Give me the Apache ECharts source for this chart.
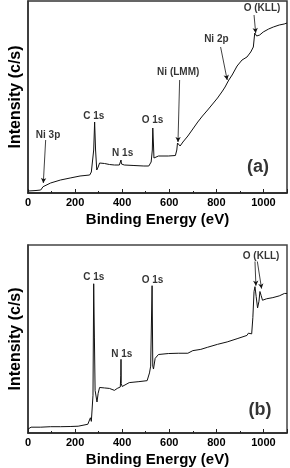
<!DOCTYPE html>
<html>
<head>
<meta charset="utf-8">
<script src="https://cdn.jsdelivr.net/npm/echarts@6/dist/echarts.min.js"></script>
<style>
  html, body { margin: 0; padding: 0; background: #fff; }
  #chart { width: 290px; height: 468px; }
</style>
</head>
<body>
<div id="chart"></div>
<script>
  // XPS survey spectra, panel (a) and panel (b)
  var energyA = [0, 34, 54, 60, 64, 96, 138, 179, 221, 262, 269, 275, 279, 283, 287, 292, 298, 304, 325, 346,
    367, 388, 394, 395, 397, 409, 450, 492, 513, 519, 523, 528, 530, 533, 535, 542, 554, 596, 626, 632,
    635, 640, 646, 658, 679, 700, 721, 741, 763, 784, 805, 826, 837, 842, 846, 849, 853, 867, 888, 909,
    930, 946, 957, 963, 971, 978, 984, 999, 1022, 1042, 1067, 1088, 1100];
  var countsA = [2, 2.5, 3, 4, 6.3, 10, 13, 15, 17, 18, 21, 22, 43, 71, 43, 23, 26, 30, 29.5, 28.5,
    28, 28, 30, 33, 29, 28, 27.5, 27, 27, 29, 31, 43, 65, 48, 35, 36, 37, 37, 37.5, 43,
    50, 48, 47, 51, 57, 64, 71, 77, 83, 89, 95, 102, 106, 107, 110, 109, 113, 118, 127, 133,
    136, 141, 146, 160, 157, 155, 158, 161, 164, 166, 168, 169, 170];

  var energyB = [0, 4, 13, 54, 96, 138, 179, 213, 221, 254, 262, 265, 269, 273, 276, 279, 282, 285, 293, 298,
    304, 325, 346, 367, 379, 392, 394, 395, 396, 400, 430, 471, 506, 516, 521, 527, 530, 533, 540, 554,
    596, 638, 679, 700, 734, 763, 805, 846, 888, 930, 936, 940, 950, 955, 960, 964, 969, 975, 981, 985,
    990, 996, 1013, 1040, 1067, 1089, 1100];
  var countsB = [4, 6, 6, 6, 6.5, 6.5, 6.7, 7, 8.3, 9, 10, 15.7, 12, 13, 39, 154, 99, 44, 32, 41,
    47, 46.5, 46, 44, 46, 47.5, 59, 76, 51, 48, 52, 53, 54, 62, 69, 152, 69, 66, 77, 81,
    82, 82.3, 82.3, 85, 86.3, 88.5, 91.5, 94, 97.3, 100.7, 103, 101, 102.3, 119, 146, 151, 141, 129, 136, 146,
    142, 137, 138.5, 139.7, 141.5, 144, 144];

  // peak labels: [energy, intensity, text]
  var labelsA = [[85, 58, 'Ni 3p'], [279, 77, 'C 1s'], [402, 40, 'N 1s'], [529, 73, 'O 1s'],
    [638, 121, 'Ni (LMM)'], [800, 154, 'Ni 2p'], [994, 185, 'O (KLL)']];
  var labelsB = [[279, 161, 'C 1s'], [398, 81, 'N 1s'], [529, 158, 'O 1s'], [990, 182, 'O (KLL)']];

  // arrows: [fromE, fromI, toE, toI]
  var arrowsA = [[75, 53, 65, 10], [644, 113, 637, 51], [818, 146, 846, 113], [960, 178, 967, 160]];
  var arrowsB = [[964, 177, 968, 152], [974, 177, 992, 149]];

  var tickEnergy = [0, 200, 400, 600, 800, 1000];

  var FONT = '"Liberation Sans", Arial, sans-serif';

  function toPairs(xs, ys) {
    var out = [];
    for (var i = 0; i < xs.length; i++) out.push([xs[i], ys[i]]);
    return out;
  }
  function toArrows(list) {
    return list.map(function (a) {
      return [{ coord: [a[0], a[1]] }, { coord: [a[2], a[3]] }];
    });
  }

  function xAxisFor(idx) {
    return {
      type: 'value', gridIndex: idx, min: 0, max: 1100, interval: 200,
      name: 'Binding Energy (eV)', nameLocation: 'middle', nameGap: 19,
      nameTextStyle: { fontFamily: FONT, fontWeight: 'bold', fontSize: 15, color: '#000' },
      axisLine: { show: true, lineStyle: { color: '#222', width: 1.5 } },
      axisTick: { show: true, inside: true, length: 4, lineStyle: { color: '#222' } },
      minorTick: { show: true, splitNumber: 2, length: 2, lineStyle: { color: '#222' } },
      axisLabel: {
        fontFamily: FONT, fontWeight: 'bold', fontSize: 11, color: '#000', margin: 4,
        formatter: function (v) { return tickEnergy.indexOf(v) >= 0 ? String(v) : ''; }
      },
      splitLine: { show: false }
    };
  }
  function yAxisFor(idx, max) {
    return {
      type: 'value', gridIndex: idx, min: 0, max: max,
      name: 'Intensity (c/s)', nameLocation: 'middle', nameGap: 4,
      nameTextStyle: { fontFamily: FONT, fontWeight: 'bold', fontSize: 16, color: '#000' },
      axisLine: { show: true, lineStyle: { color: '#333', width: 1.5 } },
      axisTick: { show: false }, axisLabel: { show: false }, splitLine: { show: false }
    };
  }
  function spectrum(idx, xs, ys, arrows) {
    return {
      type: 'line', xAxisIndex: idx, yAxisIndex: idx,
      data: toPairs(xs, ys), symbol: 'none', smooth: false,
      lineStyle: { color: '#111', width: 1 },
      markLine: {
        silent: true, symbol: ['none', 'arrow'], symbolSize: [4, 5],
        label: { show: false },
        lineStyle: { color: '#111', width: 0.8, type: 'solid' },
        data: toArrows(arrows)
      }
    };
  }
  function labels(idx, list, panel) {
    var data = list.map(function (l) { return { value: l, label: { fontSize: 10 } }; });
    data.push({ value: panel, label: { fontSize: 18 } });
    return {
      type: 'scatter', xAxisIndex: idx, yAxisIndex: idx, silent: true,
      symbolSize: 1, itemStyle: { color: 'transparent' },
      label: {
        show: true, position: 'inside', color: '#000', fontFamily: FONT, fontWeight: 'bold',
        formatter: function (p) { return p.value[2]; }
      },
      data: data
    };
  }

  var chart = echarts.init(document.getElementById('chart'), null, { renderer: 'canvas' });
  chart.setOption({
    animation: false,
    backgroundColor: '#fff',
    grid: [
      { left: 27, right: -1, top: 1, height: 192, show: true, borderColor: '#333', borderWidth: 1.5 },
      { left: 27, right: -1, top: 245, height: 194, show: true, borderColor: '#444', borderWidth: 1.5 }
    ],
    xAxis: [xAxisFor(0), xAxisFor(1)],
    yAxis: [yAxisFor(0, 192), yAxisFor(1, 194)],
    series: [
      spectrum(0, energyA, countsA, arrowsA),
      spectrum(1, energyB, countsB, arrowsB),
      labels(0, labelsA, [977, 26, '(a)']),
      labels(1, labelsB, [985, 24, '(b)'])
    ]
  });
</script>
</body>
</html>
